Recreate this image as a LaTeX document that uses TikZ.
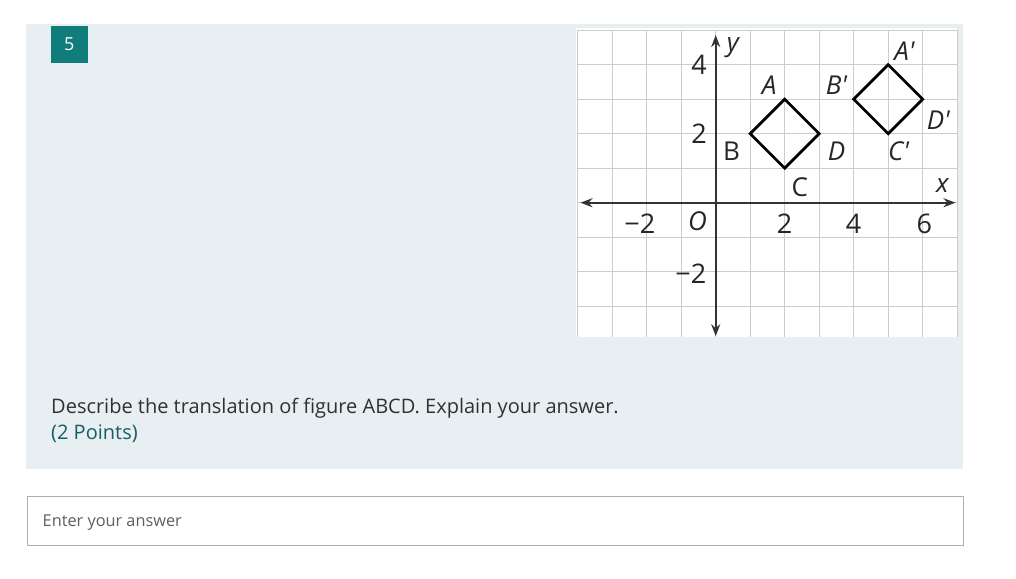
\documentclass[tikz,border=0pt]{standalone}
\usepackage{fontspec}
\setmainfont{Open Sans}
\usetikzlibrary{arrows.meta,positioning}
\definecolor{panelbg}{RGB}{232,239,242}
\definecolor{badgeteal}{RGB}{16,124,124}
\definecolor{pointsteal}{RGB}{21,94,99}
\definecolor{bodytext}{RGB}{50,49,48}
\definecolor{hinttext}{RGB}{96,94,92}
\definecolor{boxline}{RGB}{175,175,175}

\begin{document}
\begin{tikzpicture}[x=1pt, y=-1pt,
		badge/.style={fill=badgeteal, text=white, minimum size=36.7pt, inner sep=0pt, font=\fontsize{18}{18}\selectfont},
		gridline/.style={draw=black!20, line width=1.4pt},
		axis/.style={draw=black!80, line width=2pt, {Stealth[length=12pt,width=9pt]}-{Stealth[length=12pt,width=9pt]}},
		shapeline/.style={draw=black, line width=2.8pt, line join=miter},
		lbl/.style={font=\fontsize{26}{26}\selectfont\itshape, inner sep=0pt, text=black!85},
		uplbl/.style={font=\fontsize{26}{26}\selectfont, inner sep=0pt, text=black!85},
		num/.style={font=\fontsize{27}{27}\selectfont, inner sep=0pt, text=black!85}]
	\useasboundingbox (0,0) rectangle (1016,578);
	\fill[white] (0,0) rectangle (1016,578);

	% question card
	\fill[panelbg] (26,24) rectangle (963,469);
	\node[badge] (qnum) at (69.3,44.5) {5};
	\node[anchor=base west, text=bodytext, inner sep=0pt, font=\fontsize{20}{24}\selectfont] (question) at (51,413) {Describe the translation of figure ABCD. Explain your answer.};
	\node[anchor=base west, text=pointsteal, inner sep=0pt, font=\fontsize{20}{24}\selectfont] (points) at ([yshift=-26pt]question.base west) {(2 Points)};

	% answer field
	\node[draw=boxline, line width=0.9pt, minimum width=936pt, minimum height=49pt, inner sep=0pt, anchor=north west] (answer) at (26.5,495.5) {};
	\node[anchor=west, text=hinttext, inner sep=0pt, font=\fontsize{16.3}{16}\selectfont] (hint) at ([xshift=16pt,yshift=-2pt]answer.west) {Enter your answer};

	% coordinate grid
	\begin{scope}[shift={(715.7,202.7)}, x=34.5pt, y=34.5pt]
		\fill[white] (-4.04,-3.9) rectangle (7.0,5.06);
		\draw[gridline, step=1] (-4,-3.9) grid (7,5);

		\coordinate (xmin) at (-3.92,0);
		\coordinate (xmax) at (6.95,0);
		\coordinate (ymin) at (0,-3.87);
		\coordinate (ymax) at (0,4.86);
		\draw[axis] (xmin) -- (xmax);
		\draw[axis] (ymin) -- (ymax);

		\node[lbl] (xlab) at (6.57,0.5) {x};
		\node[lbl] (ylab) at (0.5,4.5) {y};
		\node[lbl] (orig) at (-0.53,-0.55) {O};
		\node[num] (xm2) at (-2.2,-0.6) {−2};
		\node[num] (x2) at (2,-0.6) {2};
		\node[num] (x4) at (4,-0.6) {4};
		\node[num] (x6) at (6.05,-0.6) {6};
		\node[num] (y4) at (-0.48,4) {4};
		\node[num] (y2) at (-0.48,2) {2};
		\node[num] (ym2) at (-0.72,-2.05) {−2};

		% figure ABCD
		\coordinate (A) at (2,3);
		\coordinate (B) at (1,2);
		\coordinate (C) at (2,1);
		\coordinate (D) at (3,2);
		\draw[shapeline] (A) -- (B) -- (C) -- (D) -- cycle;
		\node[lbl] (lA) at (1.55,3.41) {A};
		\node[uplbl] (lB) at (0.46,1.48) {B};
		\node[uplbl] (lC) at (2.44,0.46) {C};
		\node[lbl] (lD) at (3.5,1.48) {D};

		% image A'B'C'D'
		\coordinate (Ap) at (5,4);
		\coordinate (Bp) at (4,3);
		\coordinate (Cp) at (5,2);
		\coordinate (Dp) at (6,3);
		\draw[shapeline] (Ap) -- (Bp) -- (Cp) -- (Dp) -- cycle;
		\node[lbl] (lAp) at (5.47,4.4) {A\textquotesingle};
		\node[lbl] (lBp) at (3.5,3.41) {B\textquotesingle};
		\node[lbl] (lCp) at (5.3,1.48) {C\textquotesingle};
		\node[lbl] (lDp) at (6.45,2.4) {D\textquotesingle};
	\end{scope}
\end{tikzpicture}
\end{document}
